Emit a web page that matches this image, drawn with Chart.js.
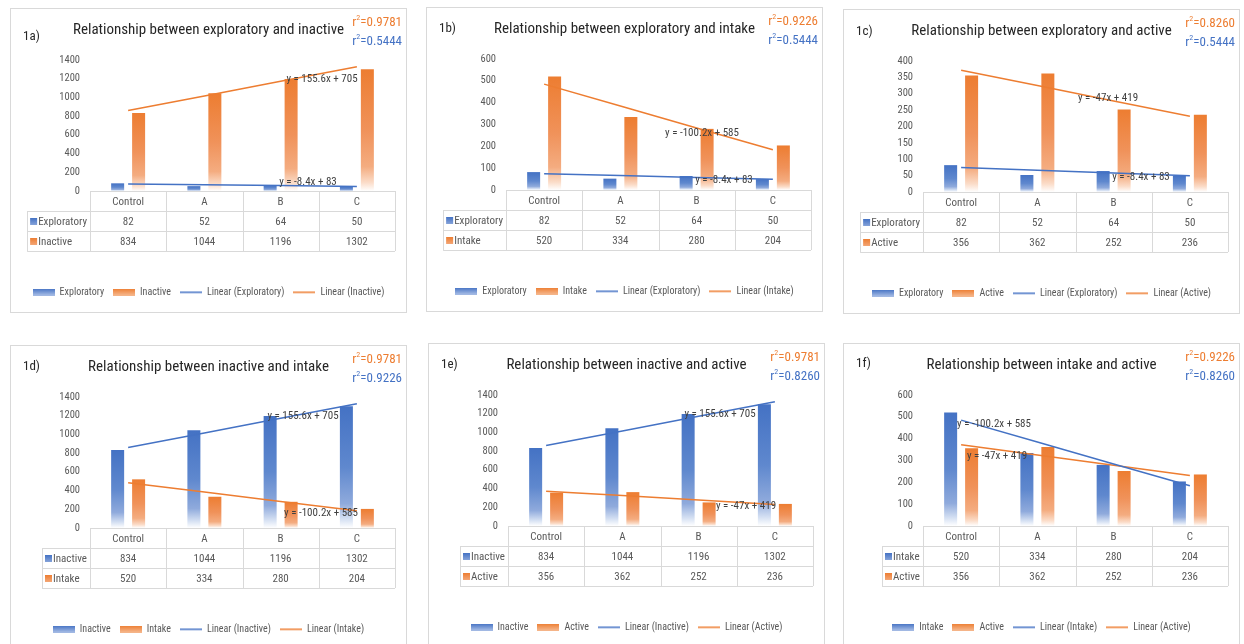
<!DOCTYPE html>
<html>
<head>
<meta charset="utf-8">
<script src="https://cdn.jsdelivr.net/npm/chart.js@4.4.0/dist/chart.umd.min.js"></script>
<style>
  body { margin: 0; background: #fff; width: 1244px; height: 644px; overflow: hidden; position: relative; }
  canvas.panel { position: absolute; }
</style>
</head>
<body>
<canvas id="c1a" class="panel" width="397" height="305" style="left:10px;top:8px"></canvas>
<canvas id="c1b" class="panel" width="397" height="305" style="left:426px;top:7px"></canvas>
<canvas id="c1c" class="panel" width="397" height="305" style="left:843px;top:9px"></canvas>
<canvas id="c1d" class="panel" width="397" height="305" style="left:10px;top:345px"></canvas>
<canvas id="c1e" class="panel" width="397" height="305" style="left:428px;top:343px"></canvas>
<canvas id="c1f" class="panel" width="397" height="305" style="left:843px;top:343px"></canvas>
<script>
const FONT = '"Liberation Sans Narrow", "Roboto Condensed", Roboto, sans-serif';

// data
const categories = ['Control', 'A', 'B', 'C'];
const exploratory = [82, 52, 64, 50];
const inactive = [834, 1044, 1196, 1302];
const intake = [520, 334, 280, 204];
const active = [356, 362, 252, 236];

// linear trendlines as shown on the chart (value at each category)
const trendExploratory = [74.6, 66.2, 57.8, 49.4];
const trendInactive = [860.6, 1016.2, 1171.8, 1327.4];
const trendIntake = [484.8, 384.6, 284.4, 184.2];
const trendActive = [372, 325, 278, 231];

const eqExploratory = 'y = -8.4x + 83';
const eqInactive = 'y = 155.6x + 705';
const eqIntake = 'y = -100.2x + 585';
const eqActive = 'y = -47x + 419';

const BLUE = '#4472C4';
const ORANGE = '#ED7D31';
const blueStops = [[0, '#4472C4'], [0.5, '#5F88CE'], [0.8, '#8FAADC'], [0.93, '#D6E1F3'], [1, '#FFFFFF']];
const orangeStops = [[0, '#ED7D31'], [0.5, '#F0925A'], [0.8, '#F4AC80'], [0.93, '#FBDCC8'], [1, '#FFFFFF']];

const series = {
    exploratory: { label: 'Exploratory', data: exploratory, trend: trendExploratory, eq: eqExploratory },
    inactive: { label: 'Inactive', data: inactive, trend: trendInactive, eq: eqInactive },
    intake: { label: 'Intake', data: intake, trend: trendIntake, eq: eqIntake },
    active: { label: 'Active', data: active, trend: trendActive, eq: eqActive },
};

const panels = [
    { id: 'c1a', tag: '1a)', tagY: 29, title: 'Relationship between exploratory and inactive',
      blue: series.exploratory, orange: series.inactive, yMax: 1400, yStep: 200,
      r2: ['0.9781', '0.5444'], eqBlue: [298, 174], eqOrange: [312, 71] },
    { id: 'c1b', tag: '1b)', tagY: 22, title: 'Relationship between exploratory and intake',
      blue: series.exploratory, orange: series.intake, yMax: 600, yStep: 100,
      r2: ['0.9226', '0.5444'], eqBlue: [298, 173], eqOrange: [276, 126] },
    { id: 'c1c', tag: '1c)', tagY: 23, title: 'Relationship between exploratory and active',
      blue: series.exploratory, orange: series.active, yMax: 400, yStep: 50,
      r2: ['0.8260', '0.5444'], eqBlue: [298, 168], eqOrange: [265, 89] },
    { id: 'c1d', tag: '1d)', tagY: 22, title: 'Relationship between inactive and intake',
      blue: series.inactive, orange: series.intake, yMax: 1400, yStep: 200,
      r2: ['0.9781', '0.9226'], eqBlue: [293, 71], eqOrange: [311, 168] },
    { id: 'c1e', tag: '1e)', tagY: 22, title: 'Relationship between inactive and active',
      blue: series.inactive, orange: series.active, yMax: 1400, yStep: 200,
      r2: ['0.9781', '0.8260'], eqBlue: [292, 71], eqOrange: [318, 163] },
    { id: 'c1f', tag: '1f)', tagY: 21, title: 'Relationship between intake and active',
      blue: series.intake, orange: series.active, yMax: 600, yStep: 100,
      r2: ['0.9226', '0.8260'], eqBlue: [151, 81], eqOrange: [154, 113] },
];

function barFill(stops) {
    return (ctx) => {
        const chart = ctx.chart;
        if (!chart.chartArea || ctx.type !== 'data') return stops[0][1];
        const y = chart.scales.y;
        const top = y.getPixelForValue(ctx.raw);
        const bottom = y.getPixelForValue(0);
        const g = chart.ctx.createLinearGradient(0, top, 0, bottom);
        stops.forEach(s => g.addColorStop(s[0], s[1]));
        return g;
    };
}

function barSwatch(color, light, w, h) {
    const cv = document.createElement('canvas');
    cv.width = w; cv.height = h;
    const g = cv.getContext('2d');
    const gr = g.createLinearGradient(0, 0, 0, h);
    gr.addColorStop(0, color);
    gr.addColorStop(1, light);
    g.fillStyle = gr;
    g.fillRect(0, 0, w, h);
    return cv;
}

function lineSwatch(color) {
    const cv = document.createElement('canvas');
    cv.width = 22; cv.height = 7;
    const g = cv.getContext('2d');
    g.fillStyle = color;
    g.fillRect(0, 3, 22, 1.5);
    return cv;
}

function drawR2(c, text, right, y, color) {
    c.fillStyle = color;
    c.textBaseline = 'middle';
    c.textAlign = 'left';
    const big = '13px ' + FONT, small = '8px ' + FONT;
    c.font = big;
    const wr = c.measureText('r').width;
    const wv = c.measureText('=' + text).width;
    c.font = small;
    const w2 = c.measureText('2').width;
    let x = right - wr - w2 - wv;
    c.font = big; c.fillText('r', x, y); x += wr;
    c.font = small; c.fillText('2', x, y - 5); x += w2;
    c.font = big; c.fillText('=' + text, x, y);
}

function drawTable(chart, p) {
    const c = chart.ctx;
    const xs = chart.scales.x;
    const top = chart.chartArea.bottom;
    const n = categories.length;
    const half = (xs.getPixelForValue(1) - xs.getPixelForValue(0)) / 2;
    const left = xs.getPixelForValue(0) - half;
    const right = xs.getPixelForValue(n - 1) + half;
    const rh = 20;
    const rows = [[p.blue, blueStops], [p.orange, orangeStops]];

    c.save();
    c.font = '11px ' + FONT;
    const labW = Math.max(...rows.map(r => c.measureText(r[0].label).width)) + 14;
    const labL = left - labW;
    const px = v => Math.round(v) + 0.5;

    c.strokeStyle = '#D9D9D9';
    c.lineWidth = 1;
    c.beginPath();
    c.moveTo(left, px(top)); c.lineTo(right, px(top));
    for (let r = 1; r <= 3; r++) {
        c.moveTo(labL, px(top + r * rh)); c.lineTo(right, px(top + r * rh));
    }
    for (let k = 0; k <= n; k++) {
        const x = px(left + k * 2 * half);
        c.moveTo(x, top); c.lineTo(x, top + 3 * rh);
    }
    c.moveTo(px(labL), top + rh); c.lineTo(px(labL), top + 3 * rh);
    c.stroke();

    c.fillStyle = '#595959';
    c.textAlign = 'center';
    c.textBaseline = 'middle';
    categories.forEach((cat, i) => c.fillText(cat, xs.getPixelForValue(i), top + rh / 2 + 1));
    rows.forEach((r, ri) => {
        const y = top + rh * (ri + 1) + rh / 2 + 1;
        c.textAlign = 'center';
        c.fillStyle = '#595959';
        r[0].data.forEach((v, i) => c.fillText(String(v), xs.getPixelForValue(i), y));
        const g = c.createLinearGradient(0, y - 4, 0, y + 4);
        g.addColorStop(0, r[1][0][1]);
        g.addColorStop(1, r[1][2][1]);
        c.fillStyle = g;
        c.fillRect(labL + 3, y - 4, 7, 7);
        c.fillStyle = '#595959';
        c.textAlign = 'left';
        c.fillText(r[0].label, labL + 11, y);
    });
    c.restore();
}

function decor(p) {
    return {
        id: 'decor',
        afterDatasetsDraw(chart) {
            const c = chart.ctx;
            c.save();
            c.font = '11px ' + FONT;
            c.fillStyle = '#404040';
            c.textAlign = 'center';
            c.textBaseline = 'middle';
            c.fillText(p.blue.eq, p.eqBlue[0], p.eqBlue[1]);
            c.fillText(p.orange.eq, p.eqOrange[0], p.eqOrange[1]);
            c.restore();
        },
        afterDraw(chart) {
            const c = chart.ctx;
            c.save();
            c.strokeStyle = '#D9D9D9';
            c.lineWidth = 1;
            c.strokeRect(0.5, 0.5, chart.width - 1, chart.height - 1);
            c.font = '13px ' + FONT;
            c.fillStyle = '#262626';
            c.textAlign = 'left';
            c.textBaseline = 'middle';
            c.fillText(p.tag, 13, p.tagY);
            drawR2(c, p.r2[0], 392, 15, ORANGE);
            drawR2(c, p.r2[1], 392, 34, BLUE);
            c.restore();
            drawTable(chart, p);
        }
    };
}

panels.forEach(p => {
    const ctx = document.getElementById(p.id).getContext('2d');
    const swatches = [
        barSwatch(BLUE, '#A9BEE6', 22, 7),
        barSwatch(ORANGE, '#F6B98F', 22, 7),
        lineSwatch(BLUE),
        lineSwatch(ORANGE),
    ];
    new Chart(ctx, {
        type: 'bar',
        data: {
            labels: categories,
            datasets: [{
                label: p.blue.label,
                data: p.blue.data,
                backgroundColor: barFill(blueStops),
                barPercentage: 0.62,
                categoryPercentage: 0.55,
                order: 2,
            }, {
                label: p.orange.label,
                data: p.orange.data,
                backgroundColor: barFill(orangeStops),
                barPercentage: 0.62,
                categoryPercentage: 0.55,
                order: 2,
            }, {
                type: 'line',
                label: 'Linear (' + p.blue.label + ')',
                data: p.blue.trend,
                borderColor: BLUE,
                borderWidth: 1.5,
                pointRadius: 0,
                fill: false,
                tension: 0,
                order: 1,
            }, {
                type: 'line',
                label: 'Linear (' + p.orange.label + ')',
                data: p.orange.trend,
                borderColor: ORANGE,
                borderWidth: 1.5,
                pointRadius: 0,
                fill: false,
                tension: 0,
                order: 1,
            }]
        },
        options: {
            responsive: false,
            animation: false,
            layout: { padding: { left: 0, right: 0, top: 0, bottom: 6 } },
            scales: {
                x: {
                    grid: { display: false, drawTicks: false },
                    border: { display: false },
                    ticks: { display: false },
                    afterFit: s => { s.height = 87; },
                },
                y: {
                    min: 0,
                    max: p.yMax,
                    ticks: {
                        stepSize: p.yStep,
                        autoSkip: false,
                        color: '#595959',
                        font: { family: FONT, size: 10.5 },
                        padding: 10,
                        callback: v => String(v),
                    },
                    grid: { display: false, drawTicks: false },
                    border: { display: false },
                    afterFit: s => { s.width = 80; },
                },
                // empty right-hand margin so the chart area ends where the table does
                pad: {
                    type: 'linear',
                    position: 'right',
                    grid: { display: false, drawTicks: false },
                    border: { display: false },
                    ticks: { display: false },
                    afterFit: s => { s.width = 12; },
                }
            },
            plugins: {
                title: {
                    display: true,
                    text: p.title,
                    color: '#262626',
                    font: { family: FONT, size: 15, weight: 'normal' },
                    padding: { top: 13, bottom: 21 },
                },
                legend: {
                    position: 'bottom',
                    labels: {
                        usePointStyle: true,
                        pointStyleWidth: 22,
                        boxHeight: 7,
                        color: '#595959',
                        font: { family: FONT, size: 10 },
                        padding: 9,
                        generateLabels: chart => chart.data.datasets.map((ds, i) => ({
                            text: ds.label,
                            pointStyle: swatches[i],
                            datasetIndex: i,
                            hidden: false,
                            fontColor: '#595959',
                            fillStyle: 'transparent',
                            strokeStyle: 'transparent',
                            lineWidth: 0,
                        })),
                    },
                },
                tooltip: { enabled: false },
            }
        },
        plugins: [decor(p)],
    });
});
</script>
</body>
</html>
